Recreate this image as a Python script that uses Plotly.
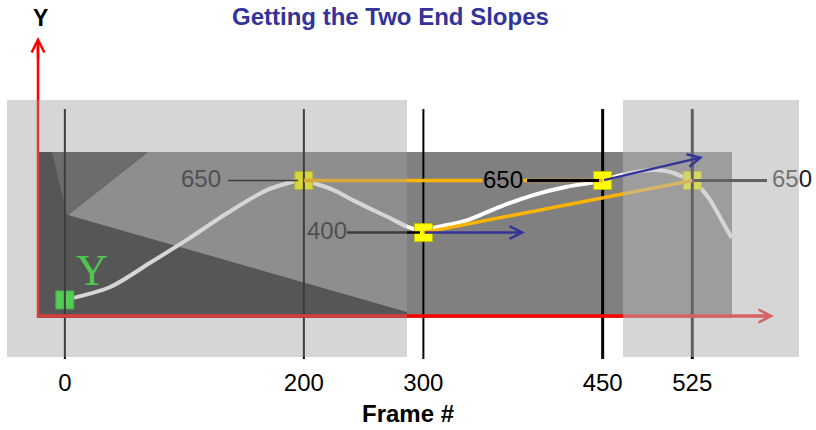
import plotly.graph_objects as go

# ---------------- data ----------------
frame_ticks = [0, 200, 300, 450, 525]            # key frames / x tick labels
key_values = [77, 650, 400, 650, 650]             # Y value at each key frame
tick_text = ["0", "200", "300", "450", "525"]
value_text = ["650", "400", "650", "650"]         # labels for key frames 200, 300, 450, 525

curve_frames = [0, 38, 71, 102, 136, 169, 194, 200, 208, 225, 241, 258, 272, 287, 300,
                308, 337, 364, 392, 420, 442, 450, 465, 492, 506, 517, 525, 531, 540, 548, 558]
curve_values = [77, 139, 254, 365, 494, 604, 648, 650, 638, 604, 556, 508, 470, 427, 408,
                422, 460, 524, 580, 620, 640, 650, 676, 700, 692, 668, 650, 620, 556, 476, 374]

# tangent (slope) arrows: start at key frames 300 and 450, end points
tangent_start_idx = [2, 3]
tangent_end_frames = [385, 534]
tangent_end_values = [400, 763]

# chords used for the slopes (index pairs of key frames)
chords = [(1, 3), (2, 4)]

# ---------------- canvas / scale set-up ----------------
OFF = 0                      # page body margin (removed below)
FIG_W, FIG_H = 816, 430
PLOT_H = 366                 # plot area height inside the figure
X0_PX, PX_PER_FRAME = 64.85, 1.1951   # page pixel of frame 0, px per frame
Y0_PX, PX_PER_VAL = 316.0, 0.20846    # page pixel of value 0, px per unit


def fx(px):
    return (px - X0_PX) / PX_PER_FRAME


def fy(py):
    return (Y0_PX - py) / PX_PER_VAL


def pp(px, py):
    return (px - OFF) / FIG_W, 1 - (py - OFF) / PLOT_H


def rect(x0, y0, x1, y1, color, layer):
    a, b = pp(x0, y0)
    c, d = pp(x1, y1)
    return dict(type="rect", xref="paper", yref="paper", x0=a, y0=d, x1=c, y1=b,
                fillcolor=color, line=dict(width=0), layer=layer)


def poly(points, color, layer):
    path = "M " + " L ".join("%f,%f" % pp(x, y) for x, y in points) + " Z"
    return dict(type="path", xref="paper", yref="paper", path=path,
                fillcolor=color, line=dict(width=0), layer=layer)


FONT = "Liberation Sans, Arial, sans-serif"
ORANGE = "#ffb400"
BLUE = "#333399"

fig = go.Figure()

# white motion curve
fig.add_trace(go.Scatter(x=curve_frames, y=curve_values, mode="lines",
                         line=dict(color="white", width=4, shape="spline", smoothing=0.8),
                         hoverinfo="skip"))

key_colors = ["#28f028", "#ffff00", "#ffff00", "#ffff00", "#ffff00"]
key_lines = ["#20b020", "#c0c000", "#c0c000", "#c0c000", "#c0c000"]
front = [2, 3]
back = [i for i in range(len(frame_ticks)) if i not in front]


def markers(idx):
    return go.Scatter(x=[frame_ticks[i] for i in idx], y=[key_values[i] for i in idx],
                      mode="markers",
                      marker=dict(symbol="square", size=18,
                                  color=[key_colors[i] for i in idx],
                                  line=dict(color=[key_lines[i] for i in idx], width=1)),
                      hoverinfo="skip")


fig.add_trace(markers(back))

# vertical frame guide lines
vwidths = [2, 2, 2, 3, 3]
for f, w in zip(frame_ticks, vwidths):
    fig.add_trace(go.Scatter(x=[f, f], y=[fy(109), fy(359)], mode="lines",
                             line=dict(color="black", width=w), hoverinfo="skip"))

fig.add_trace(markers(front))

# orange chords
for a, b in chords:
    fig.add_trace(go.Scatter(x=[frame_ticks[a], frame_ticks[b]], y=[key_values[a], key_values[b]],
                             mode="lines", line=dict(color=ORANGE, width=3.5), hoverinfo="skip"))

# leader lines from value labels
leaders = [((fx(228), fx(298)), key_values[1], 1.5),
           ((fx(347), fx(420)), key_values[2], 2.5),
           ((fx(527), fx(599)), key_values[3], 3),
           ((fx(694), fx(767)), key_values[4], 3)]
for (xa, xb), v, w in leaders:
    fig.add_trace(go.Scatter(x=[xa, xb], y=[v, v], mode="lines",
                             line=dict(color="black", width=w), hoverinfo="skip"))

# value labels (the ones covered by the faded panels)
lab_x = [fx(201), fx(327), None, fx(792)]
lab_y_idx = [1, 2, 3, 4]
for i, (lx, t) in enumerate(zip(lab_x, value_text)):
    if lx is None:
        continue
    fig.add_trace(go.Scatter(x=[lx], y=[key_values[lab_y_idx[i]]], mode="text", text=[t],
                             textposition="middle center",
                             textfont=dict(family=FONT, size=24, color="#202020"),
                             hoverinfo="skip"))

# green serif "Y" near the start key
fig.add_trace(go.Scatter(x=[fx(92)], y=[fy(274)], mode="text", text=["Y"],
                         textposition="middle center",
                         textfont=dict(family="Liberation Serif, Times New Roman, serif",
                                       size=44, color="rgb(32,228,32)"),
                         hoverinfo="skip"))

# red axes
fig.add_trace(go.Scatter(x=[fx(38), fx(768)], y=[0, 0], mode="lines",
                         line=dict(color="#ff0000", width=3.5), hoverinfo="skip"))
fig.add_trace(go.Scatter(x=[fx(38), fx(38)], y=[fy(318), fy(45)], mode="lines",
                         line=dict(color="#ff0000", width=2.5), hoverinfo="skip"))

shapes = [
    # dark stage rectangle (middle + right part)
    rect(407, 152, 732, 318, "#808080", "below"),
    # left (previous frame) image
    rect(38, 152, 407, 318, "#2a2a2a", "below"),
    poly([(68, 215), (148, 152), (407, 152), (407, 312)], "#878787", "below"),
    poly([(52, 152), (148, 152), (67, 215)], "#4f4f4f", "below"),
    # faded panels
    rect(7, 100, 407, 357, "rgba(152,152,152,0.4)", "above"),
    rect(623, 100, 799, 357, "rgba(180,180,180,0.55)", "above"),
]

annotations = [
    dict(x=fx(503), y=key_values[3], xref="x", yref="y", text=value_text[2], showarrow=False,
         font=dict(family=FONT, size=24, color="black"), bgcolor="#808080", borderpad=0,
         yshift=1),
]
for k, ex, ey in zip(tangent_start_idx, tangent_end_frames, tangent_end_values):
    annotations.append(dict(x=ex, y=ey, ax=frame_ticks[k], ay=key_values[k],
                            xref="x", yref="y", axref="x", ayref="y", text="",
                            showarrow=True, arrowhead=5, arrowsize=1, arrowwidth=2.5,
                            arrowcolor=BLUE, standoff=0, startstandoff=0))
# axis arrowheads
annotations.append(dict(x=fx(38), y=fy(37), ax=fx(38), ay=fy(60), xref="x", yref="y",
                        axref="x", ayref="y", text="", showarrow=True, arrowhead=5,
                        arrowsize=1, arrowwidth=2.5, arrowcolor="#ff0000", standoff=0))
annotations.append(dict(x=fx(774), y=0, ax=fx(752), ay=0, xref="x", yref="y",
                        axref="x", ayref="y", text="", showarrow=True, arrowhead=5,
                        arrowsize=1, arrowwidth=2.5, arrowcolor="rgb(214,99,99)", standoff=0))
# title and Y label
tx, ty = pp(390, 16)
annotations.append(dict(x=tx, y=ty, xref="paper", yref="paper", showarrow=False,
                        text="<b>Getting the Two End Slopes</b>", xanchor="center",
                        yanchor="middle", font=dict(family=FONT, size=24, color=BLUE)))
yx, yy = pp(40, 18)
annotations.append(dict(x=yx, y=yy, xref="paper", yref="paper", showarrow=False,
                        text="<b>Y</b>", xanchor="center", yanchor="middle",
                        font=dict(family=FONT, size=23, color="black")))

fig.update_layout(
    template="none",
    width=FIG_W, height=FIG_H,
    margin=dict(l=0, r=0, t=0, b=FIG_H - PLOT_H, pad=0),
    paper_bgcolor="white", plot_bgcolor="white",
    showlegend=False,
    shapes=shapes,
    annotations=annotations,
    font=dict(family=FONT, color="black"),
    xaxis=dict(range=[fx(OFF), fx(OFF + FIG_W)], tickvals=frame_ticks, ticktext=tick_text,
               tickfont=dict(family=FONT, size=24, color="black"),
               showgrid=False, zeroline=False, showline=False, ticks="",
               automargin=False, fixedrange=True,
               title=dict(text="<b>Frame #</b>", font=dict(family=FONT, size=24, color="black"),
                          standoff=10)),
    yaxis=dict(range=[fy(OFF + PLOT_H), fy(OFF)], visible=False, showgrid=False,
               zeroline=False, automargin=False, fixedrange=True),
)

fig.write_html("out.html", config={"displayModeBar": False},
               post_script="document.body.style.margin='0px';document.body.style.overflow='hidden';")
